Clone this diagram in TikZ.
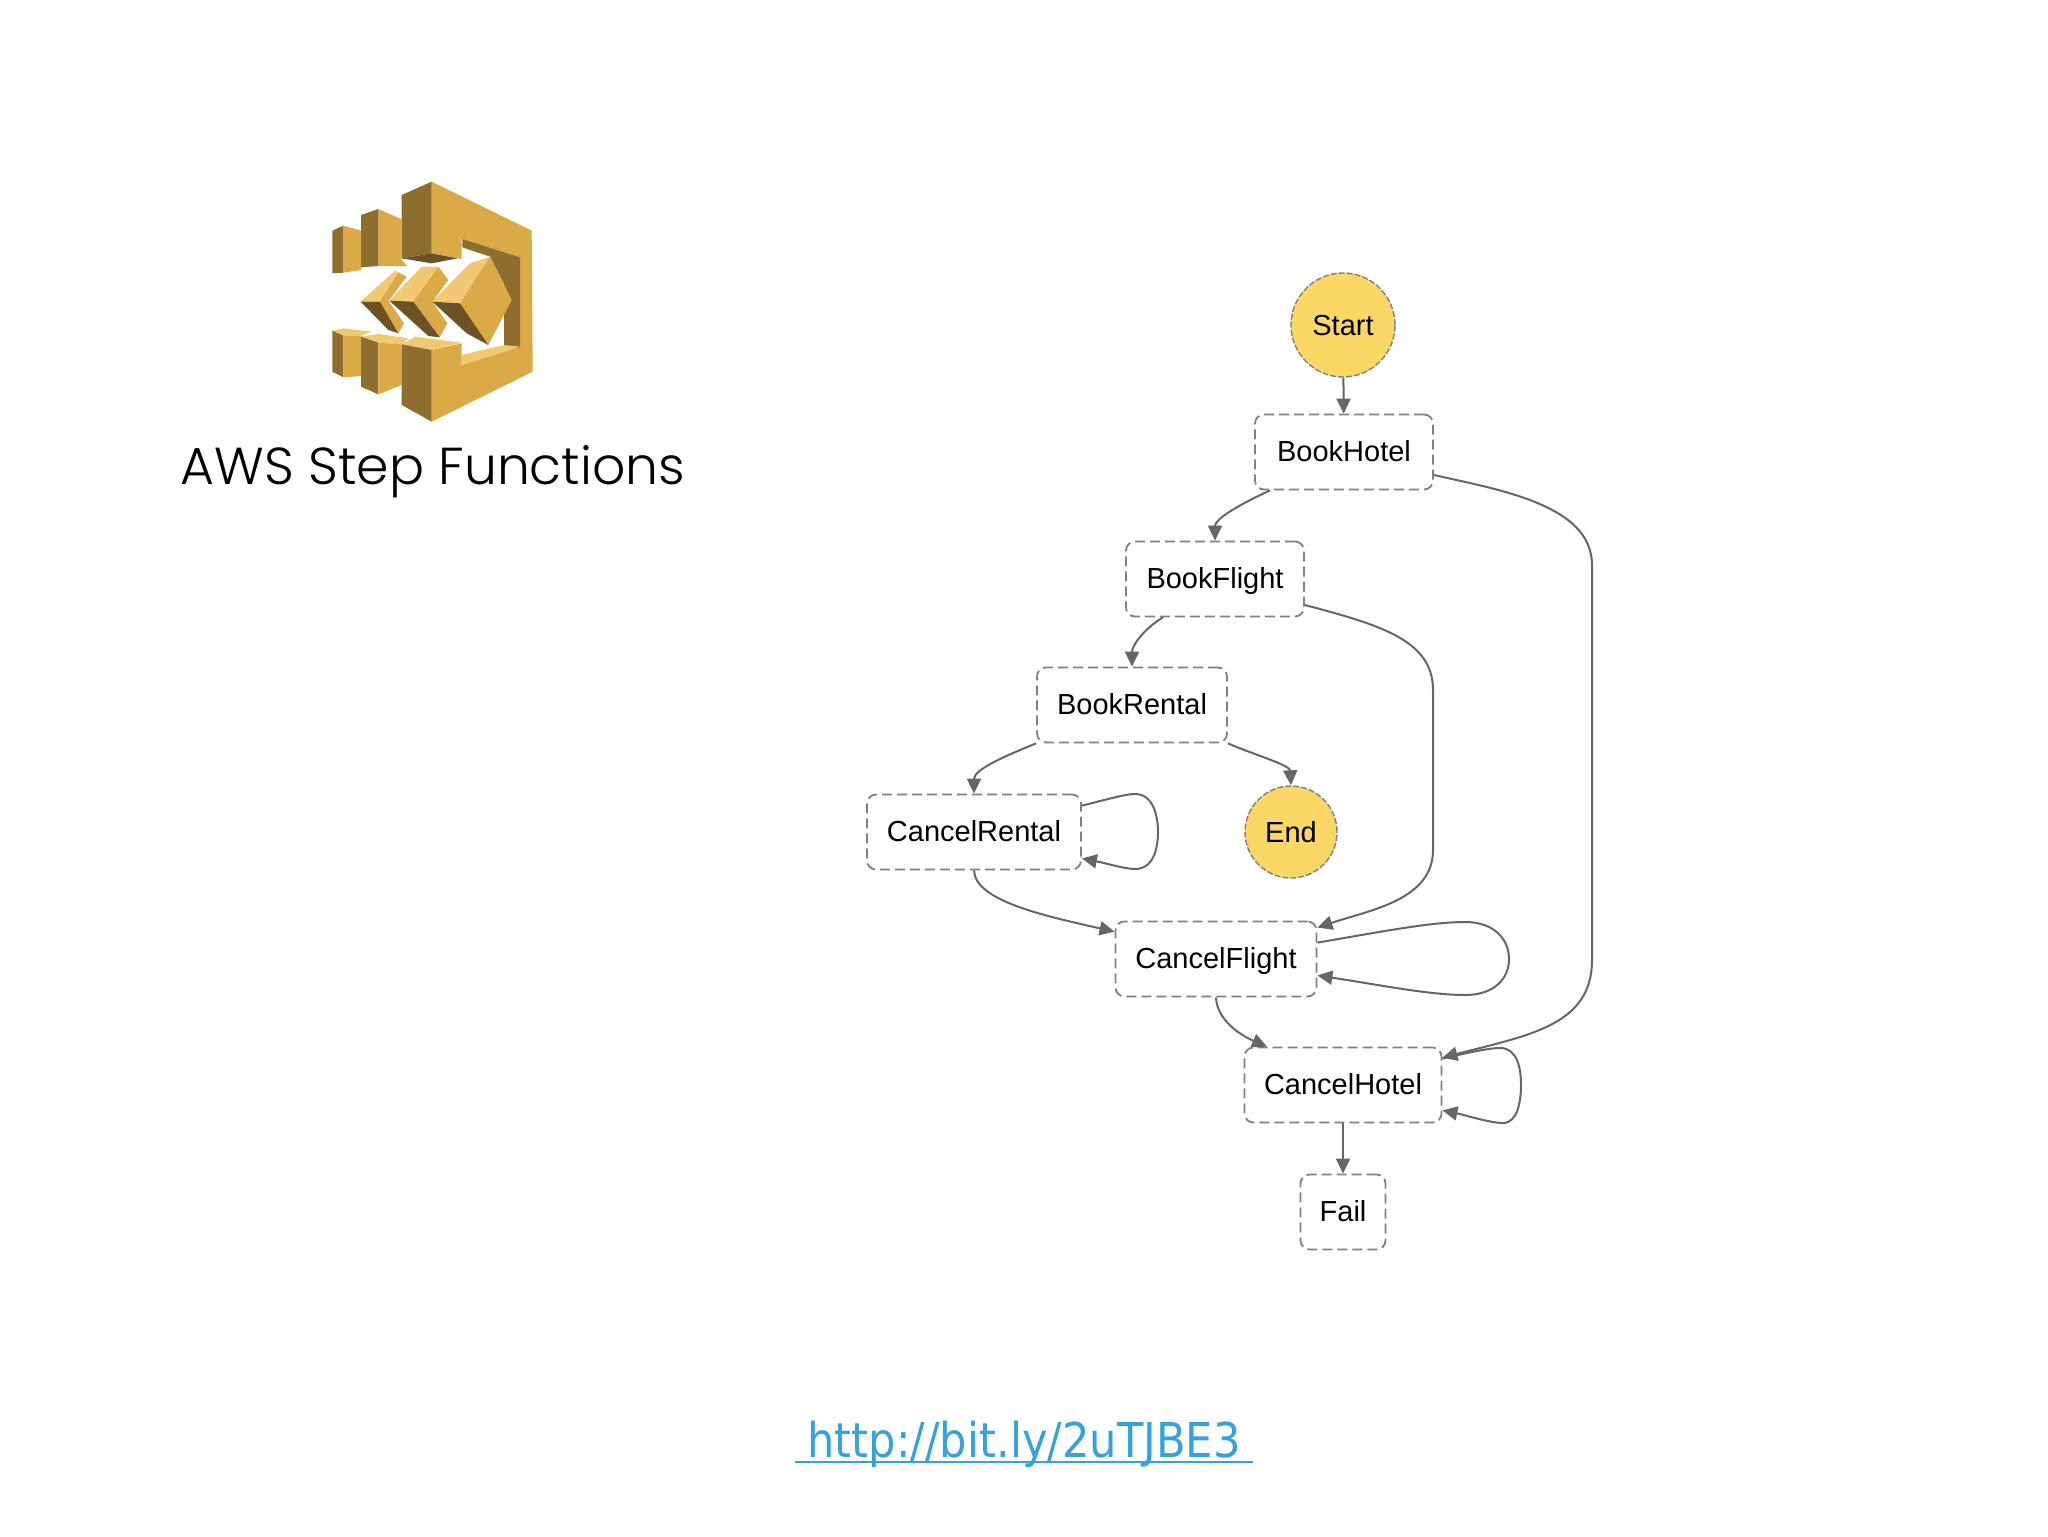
\documentclass[tikz,border=0pt]{standalone}
\usepackage{fontspec}
\setmainfont{Liberation Sans}
\newfontfamily\titlefont[UprightFont=* Light]{Poppins}
\newfontfamily\urlfont[FakeStretch=0.9]{DejaVu Sans}
\usetikzlibrary{arrows.meta}
\definecolor{lineg}{HTML}{666666}
\definecolor{dashg}{HTML}{808080}
\definecolor{startY}{HTML}{FBD866}
\definecolor{logoM}{HTML}{DBA945}
\definecolor{logoD}{HTML}{8E6E2F}
\definecolor{logoL}{HTML}{F2C873}
\definecolor{logoK}{HTML}{6C5224}
\definecolor{urlc}{HTML}{35A2DC}
\tikzset{
  state/.style={draw=dashg,line width=0.9pt,dash pattern=on 5pt off 2.5pt,rounded corners=4.5pt,fill=white,
    font=\fontsize{14.5}{16}\selectfont,text=black,inner sep=0pt,minimum height=37.5pt,text height=10.4pt,text depth=1.4pt},
  term/.style={circle,draw=dashg,line width=0.7pt,dash pattern=on 3pt off 1pt,fill=startY,
    font=\fontsize{14.5}{16}\selectfont,text=black,inner sep=0pt,text height=10.4pt,text depth=0.4pt},
  edge/.style={draw=lineg,line width=1pt,-{Triangle[length=7.5pt,width=7pt]}},
  lM/.style={fill=logoM},lD/.style={fill=logoD},lL/.style={fill=logoL},lK/.style={fill=logoK}
}
\begin{document}
\begin{tikzpicture}[x=0.5pt,y=-0.5pt]
\useasboundingbox (0,0) rectangle (2048,1536);
% logo
\begin{scope}[shift={(300,160)},x=0.16667pt,y=-0.16667pt]
 % large C
 \fill[lM] (395,65)--(695,212)--(698,635)--(395,785)--(395,570)--(485,550)--(485,615)--(660,560)--(660,292)--(485,237)--(485,297)--(395,280)--cycle;
 \fill[lD] (487,237)--(660,292)--(660,562)--(612,572)--(612,372)--(570,290)--(487,262)--cycle;
 \fill[lL] (485,585)--(612,555)--(660,560)--(485,615)--cycle;
 \fill[lD] (305,105)--(395,65)--(395,280)--(305,295)--cycle;
 \fill[lK] (305,295)--(395,280)--(472,295)--(395,310)--cycle;
 % upper small blocks
 \fill[lM] (235,147)--(305,178)--(305,300)--(322,318)--(235,318)--cycle;
 \fill[lD] (183,165)--(235,147)--(235,318)--(183,322)--cycle;
 \fill[lM] (130,197)--(183,212)--(183,330)--(130,338)--cycle;
 \fill[lD] (97,212)--(130,197)--(130,338)--(97,340)--cycle;
 % lower small blocks
 \fill[lL] (97,512)--(130,505)--(215,515)--(183,527)--(130,527)--cycle;
 \fill[lD] (97,512)--(130,527)--(130,652)--(97,635)--cycle;
 \fill[lM] (130,527)--(183,527)--(183,648)--(130,652)--cycle;
 \fill[lL] (183,530)--(235,522)--(325,535)--(305,553)--(235,548)--cycle;
 \fill[lD] (183,530)--(235,548)--(235,703)--(183,680)--cycle;
 \fill[lM] (235,548)--(305,553)--(305,675)--(235,703)--cycle;
 % lower big block
 \fill[lL] (305,553)--(345,530)--(485,548)--(395,570)--cycle;
 \fill[lD] (305,553)--(395,570)--(395,785)--(305,735)--cycle;
 % chevrons
 \fill[lL] (182,425)--(285,332)--(318,350)--(265,425)--cycle;
 \fill[lM] (295,338)--(320,350)--(265,422)--(312,490)--(295,520)--(240,425)--cycle;
 \fill[lK] (182,425)--(240,425)--(295,520)--(265,510)--cycle;
 \fill[lL] (268,422)--(365,320)--(415,320)--(340,425)--cycle;
 \fill[lM] (415,320)--(445,360)--(397,425)--(442,490)--(420,530)--(340,425)--cycle;
 \fill[lK] (268,422)--(340,425)--(420,532)--(385,528)--cycle;
 \fill[lL] (397,425)--(510,310)--(570,290)--(480,430)--cycle;
 \fill[lM] (570,290)--(635,420)--(565,555)--(480,430)--cycle;
 \fill[lK] (397,425)--(480,430)--(565,555)--(500,520)--cycle;
\end{scope}
% texts
\node[font=\titlefont\fontsize{26}{30}\selectfont,text=black,anchor=base] (title) at (433,484) {AWS Step Functions};
\node[font=\urlfont\fontsize{24}{30}\selectfont,text=urlc,anchor=base] (url) at (1024,1457) {http://bit.ly/2uTJBE3};
\coordinate (ul) at (795,1462); \coordinate (ur) at (1253,1462);
\draw[urlc,line width=1.3pt] (ul)--(ur);
% states
\node[term,minimum size=52pt] (start) at (1343,325) {Start};
\node[term,minimum size=46pt] (end) at (1291,832) {End};
\node[state,minimum width=89pt] (bh) at (1344,452) {BookHotel};
\node[state,minimum width=89pt] (bf) at (1215,579) {BookFlight};
\node[state,minimum width=95pt] (br) at (1132,705) {BookRental};
\node[state,minimum width=107pt] (cr) at (974,832) {CancelRental};
\node[state,minimum width=100.5pt] (cf) at (1216,959) {CancelFlight};
\node[state,minimum width=98.5pt] (ch) at (1343,1085) {CancelHotel};
\node[state,minimum width=42.5pt] (fail) at (1343,1212) {Fail};
% edges
\draw[edge] (start) -- (bh);
\draw[edge] ([xshift=-37pt]bh.south) .. controls (1232,508) and (1215,520) .. (bf.north);
\draw[edge] (bh.east |- 1433,475) .. controls (1500,490) and (1592,505) .. (1592,565) -- (1592,960) .. controls (1592,1025) and (1530,1035) .. ([yshift=-5.5pt]ch.north east);
\draw[edge] ([xshift=-26pt]bf.south) .. controls (1145,628) and (1132,645) .. (br.north);
\draw[edge] (bf.east |- 1304,605) .. controls (1380,625) and (1433,640) .. (1433,690) -- (1433,850) .. controls (1433,900) and (1370,910) .. ([yshift=-3.5pt]cf.north east);
\draw[edge] (br.south west) .. controls (1000,758) and (974,770) .. (cr.north);
\draw[edge] (br.south east) .. controls (1255,755) and (1290,765) .. (end.north);
\draw[edge] (cr.south) .. controls (975,900) and (1040,915) .. ([yshift=-5.5pt]cf.north west);
\draw[edge] ([yshift=-6pt]cr.north east) .. controls (1105,800) and (1125,794) .. (1135,794) .. controls (1155,794) and (1158,820) .. (1158,832) .. controls (1158,845) and (1155,869) .. (1135,869) .. controls (1125,869) and (1105,863) .. ([yshift=6pt]cr.south east);
\draw[edge] ([yshift=-11pt]cf.north east) .. controls (1380,932) and (1430,922) .. (1465,922) .. controls (1495,922) and (1509,940) .. (1509,959) .. controls (1509,978) and (1495,995) .. (1465,995) .. controls (1430,995) and (1380,985) .. ([yshift=11pt]cf.south east);
\draw[edge] (cf.south) .. controls (1217,1020) and (1240,1035) .. ([xshift=-38pt]ch.north);
\draw[edge] ([yshift=-6pt]ch.north east) .. controls (1470,1052) and (1490,1048) .. (1500,1048) .. controls (1518,1048) and (1521,1070) .. (1521,1085) .. controls (1521,1100) and (1518,1123) .. (1503,1123) .. controls (1490,1123) and (1465,1115) .. ([yshift=6.5pt]ch.south east);
\draw[edge] (ch) -- (fail);
\end{tikzpicture}
\end{document}
